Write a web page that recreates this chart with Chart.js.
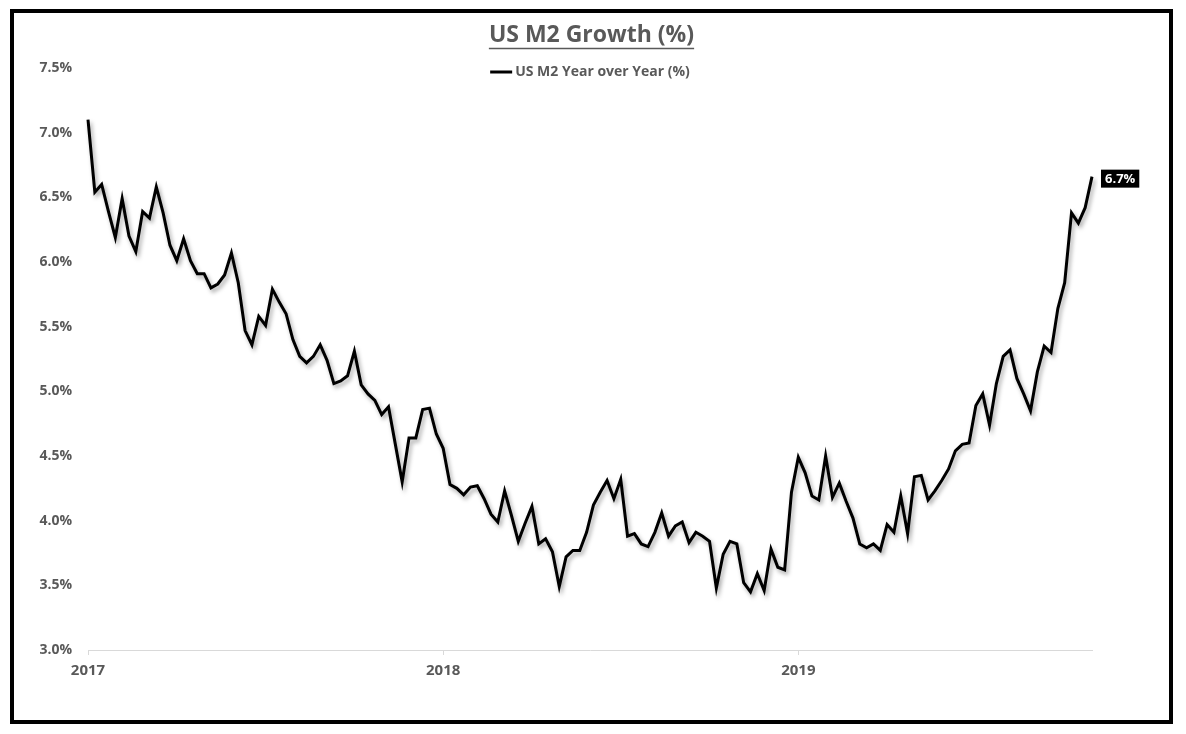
<!DOCTYPE html>
<html>
<head>
<meta charset="utf-8">
<title>US M2 Growth (%)</title>
<script src="https://cdn.jsdelivr.net/npm/chart.js@4.4.1/dist/chart.umd.min.js"></script>
<style>
  html, body { margin: 0; padding: 0; background: #fff; }
  #frame { position: absolute; left: 10px; top: 9px; width: 1155px; height: 707px; border: 4px solid #000; background: #fff; }
  #frame canvas { display: block; }
</style>
</head>
<body>
<div id="frame"><canvas id="m2Chart"></canvas></div>
<script>
// weekly readings, first week of Jan 2017 to Oct 2019
const yearTickWeeks = [0, 52, 104];
const yearTickLabels = ['2017', '2018', '2019'];
const m2Growth = [
  7.10, 6.54, 6.60, 6.39, 6.19, 6.49, 6.20, 6.08, 6.39, 6.34,
  6.58, 6.38, 6.13, 6.01, 6.18, 6.01, 5.91, 5.91, 5.80, 5.83,
  5.90, 6.07, 5.84, 5.47, 5.36, 5.58, 5.51, 5.79, 5.69, 5.60,
  5.40, 5.27, 5.22, 5.27, 5.36, 5.24, 5.06, 5.08, 5.12, 5.31,
  5.05, 4.98, 4.93, 4.82, 4.88, 4.59, 4.30, 4.64, 4.64, 4.86,
  4.87, 4.67, 4.56, 4.28, 4.25, 4.20, 4.26, 4.27, 4.17, 4.05,
  3.99, 4.23, 4.04, 3.84, 3.98, 4.11, 3.82, 3.86, 3.76, 3.49,
  3.72, 3.77, 3.77, 3.91, 4.12, 4.22, 4.31, 4.17, 4.32, 3.88,
  3.90, 3.82, 3.80, 3.91, 4.06, 3.88, 3.96, 3.99, 3.83, 3.91,
  3.88, 3.84, 3.48, 3.74, 3.84, 3.82, 3.52, 3.45, 3.59, 3.46,
  3.78, 3.64, 3.62, 4.22, 4.49, 4.37, 4.19, 4.16, 4.50, 4.18,
  4.29, 4.15, 4.02, 3.82, 3.79, 3.82, 3.77, 3.97, 3.91, 4.19,
  3.90, 4.34, 4.35, 4.16, 4.23, 4.31, 4.40, 4.54, 4.59, 4.60,
  4.89, 4.98, 4.74, 5.06, 5.27, 5.32, 5.10, 4.98, 4.85, 5.15,
  5.35, 5.30, 5.64, 5.84, 6.38, 6.30, 6.42, 6.66
];

const FONT = '"Open Sans", "DejaVu Sans", sans-serif';
const GREY = '#595959';

// soft drop shadow under the line like the excel chart
const lineShadow = {
  id: 'lineShadow',
  beforeDatasetsDraw(chart) {
    const ctx = chart.ctx;
    ctx.save();
    ctx.shadowColor = 'rgba(0, 0, 0, 0.35)';
    ctx.shadowBlur = 4;
    ctx.shadowOffsetX = 2;
    ctx.shadowOffsetY = 3;
  },
  afterDatasetsDraw(chart) {
    chart.ctx.restore();
  }
};

// underline under the title text
const titleUnderline = {
  id: 'titleUnderline',
  afterDraw(chart) {
    const t = chart.titleBlock;
    if (!t) return;
    const ctx = chart.ctx;
    const font = Chart.helpers.toFont(t.options.font);
    ctx.save();
    ctx.font = font.string;
    const w = ctx.measureText(t.options.text).width;
    const cx = (t.left + t.right) / 2;
    const cy = t.top + t.options.padding.top + font.lineHeight / 2;
    const y = Math.round(cy + font.size * 0.55) + 0.5;
    ctx.strokeStyle = GREY;
    ctx.lineWidth = 1.5;
    ctx.beginPath();
    ctx.moveTo(cx - w / 2, y);
    ctx.lineTo(cx + w / 2, y);
    ctx.stroke();
    ctx.restore();
  }
};

// legend sits inside the plot, centred under the title
const innerLegend = {
  id: 'innerLegend',
  afterDraw(chart) {
    const ds = chart.data.datasets[0];
    const ctx = chart.ctx;
    const area = chart.chartArea;
    ctx.save();
    ctx.font = 'bold 14px ' + FONT;
    const textW = ctx.measureText(ds.label).width;
    const lineW = 22, gap = 3;
    const x0 = (area.left + area.right) / 2 - (lineW + gap + textW) / 2;
    const y = area.top + 4;
    ctx.strokeStyle = ds.borderColor;
    ctx.lineWidth = 3;
    ctx.beginPath();
    ctx.moveTo(x0, y);
    ctx.lineTo(x0 + lineW, y);
    ctx.stroke();
    ctx.fillStyle = GREY;
    ctx.textBaseline = 'middle';
    ctx.fillText(ds.label, x0 + lineW + gap, y);
    ctx.restore();
  }
};

// black tag with the latest value
const lastValueTag = {
  id: 'lastValueTag',
  afterDraw(chart) {
    const meta = chart.getDatasetMeta(0);
    const last = meta.data.length - 1;
    const pt = meta.data[last];
    const val = chart.data.datasets[0].data[last].y;
    const text = val.toFixed(1) + '%';
    const ctx = chart.ctx;
    ctx.save();
    ctx.font = 'bold 13px ' + FONT;
    const w = ctx.measureText(text).width + 8;
    const h = 18;
    const x = pt.x + 9;
    const cy = pt.y + 2;
    ctx.fillStyle = '#000';
    ctx.fillRect(x, cy - h / 2, w, h);
    ctx.fillStyle = '#fff';
    ctx.textBaseline = 'middle';
    ctx.fillText(text, x + 4, cy + 1);
    ctx.restore();
  }
};

const ctx = document.getElementById('m2Chart').getContext('2d');
new Chart(ctx, {
  type: 'line',
  data: {
    datasets: [{
      label: 'US M2 Year over Year (%)',
      data: m2Growth.map((v, i) => ({ x: i, y: v })),
      borderColor: '#000',
      borderWidth: 3,
      pointRadius: 0,
      tension: 0,
      fill: false,
      clip: 6
    }]
  },
  options: {
    responsive: true,
    maintainAspectRatio: false,
    animation: false,
    layout: { padding: 0 },
    plugins: {
      legend: { display: false },
      tooltip: { enabled: false },
      title: {
        display: true,
        text: 'US M2 Growth (%)',
        color: GREY,
        font: { family: FONT, size: 23, weight: 'bold' },
        padding: { top: 9, bottom: 18.4 }
      }
    },
    scales: {
      x: {
        type: 'linear',
        min: 0,
        max: m2Growth.length - 1,
        afterBuildTicks(scale) {
          scale.ticks = yearTickWeeks.map(v => ({ value: v }));
        },
        afterFit(scale) {
          scale.height = 70;
          scale.paddingRight = 77;  // room for the value tag, title stays centred on the frame
        },
        grid: { drawOnChartArea: false, drawTicks: true, tickLength: 5, color: '#d9d9d9' },
        border: { display: true, color: '#d9d9d9', width: 1 },
        ticks: {
          autoSkip: false,
          maxRotation: 0,
          padding: 7,
          color: GREY,
          font: { family: FONT, size: 15, weight: 'bold' },
          callback: v => yearTickLabels[yearTickWeeks.indexOf(v)]
        }
      },
      y: {
        min: 3.0,
        max: 7.5,
        afterFit(scale) { scale.width = 74; },
        grid: { display: false, drawTicks: false },
        border: { display: false },
        ticks: {
          stepSize: 0.5,
          padding: 16,
          color: GREY,
          font: { family: FONT, size: 14, weight: 'bold' },
          callback: v => v.toFixed(1) + '%'
        }
      }
    }
  },
  plugins: [lineShadow, titleUnderline, innerLegend, lastValueTag]
});
</script>
</body>
</html>
